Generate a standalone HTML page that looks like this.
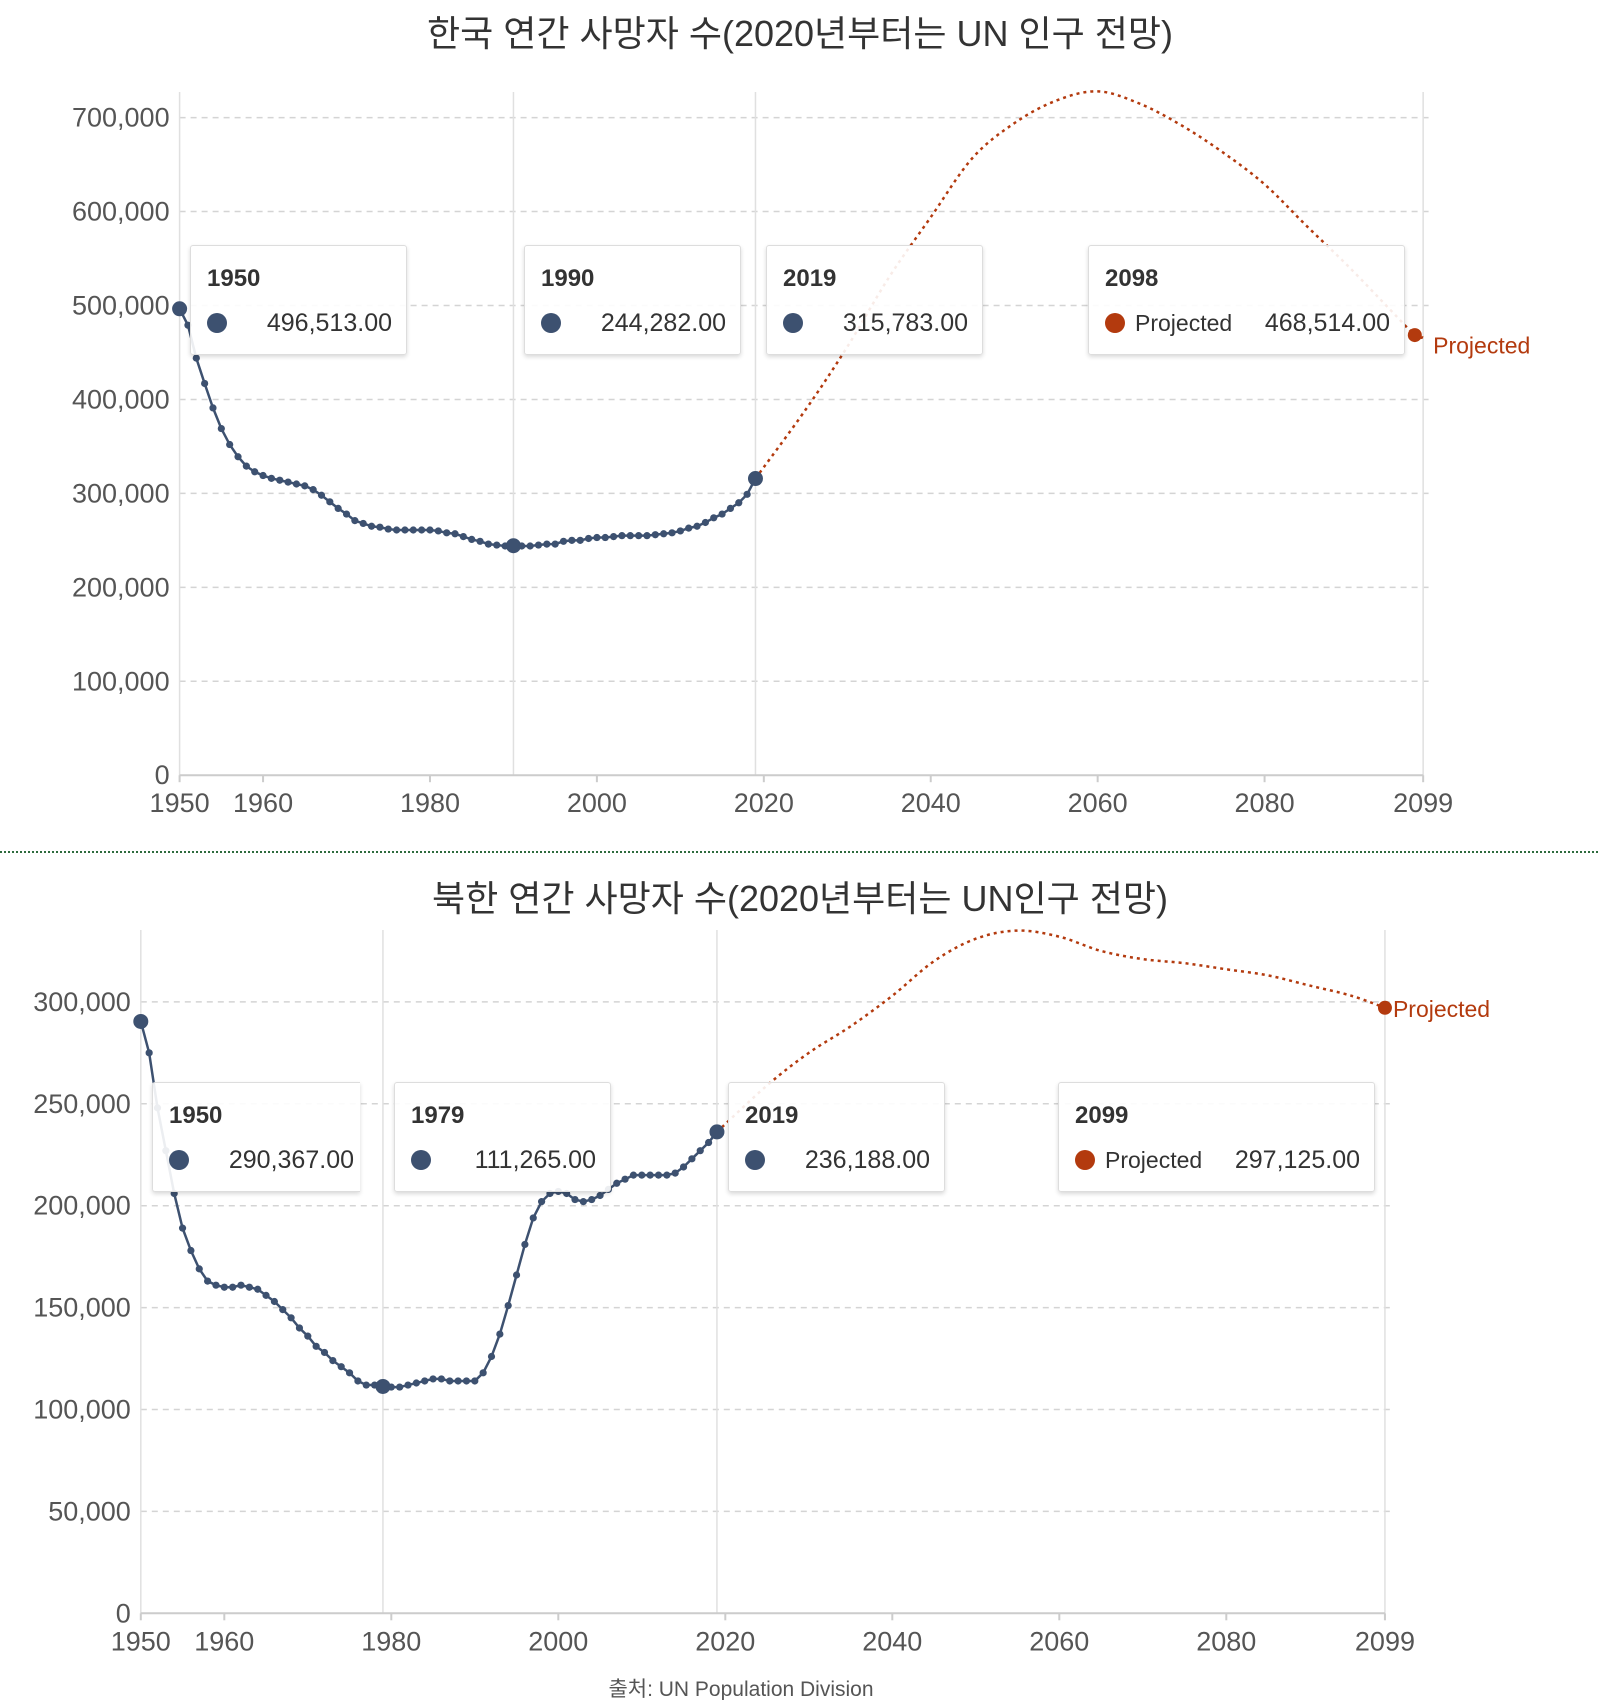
<!DOCTYPE html>
<html><head><meta charset="utf-8">
<style>
html,body{margin:0;padding:0;background:#fff;}
body{width:1600px;height:1700px;position:relative;overflow:hidden;font-family:"Liberation Sans","Noto Sans CJK KR",sans-serif;}
svg{position:absolute;left:0;top:0;}
.tip{position:absolute;background:rgba(255,255,255,0.9);border:1px solid #ddd;border-radius:3px;box-shadow:0 2px 4px rgba(0,0,0,0.15);box-sizing:border-box;color:#333;font-family:"Liberation Sans",sans-serif;}
.tip .yr{position:absolute;left:16px;top:19px;font-weight:bold;font-size:24px;}
.tip .dot{position:absolute;left:16px;top:67px;width:20px;height:20px;border-radius:50%;}
.tip .val{position:absolute;right:14px;top:63px;font-size:25px;}
.tip .lab{position:absolute;left:46px;top:64px;font-size:23px;}
</style></head>
<body>
<svg id="chart" width="1600" height="1700"></svg>

<div class="tip" style="left:190px;top:245px;width:217px;height:110px;"><div class="yr">1950</div><div class="dot" style="background:#3d5170"></div><div class="val">496,513.00</div></div>
<div class="tip" style="left:524px;top:245px;width:217px;height:110px;"><div class="yr">1990</div><div class="dot" style="background:#3d5170"></div><div class="val">244,282.00</div></div>
<div class="tip" style="left:766px;top:245px;width:217px;height:110px;"><div class="yr">2019</div><div class="dot" style="background:#3d5170"></div><div class="val">315,783.00</div></div>
<div class="tip" style="left:1088px;top:245px;width:317px;height:110px;"><div class="yr">2098</div><div class="dot" style="background:#b33a0e"></div><div class="lab">Projected</div><div class="val">468,514.00</div></div>

<div class="tip" style="left:152px;top:1082px;width:208px;height:110px;border-right:none;border-radius:3px 0 0 3px;"><div class="yr">1950</div><div class="dot" style="background:#3d5170"></div><div class="val" style="right:6px">290,367.00</div></div>
<div class="tip" style="left:394px;top:1082px;width:217px;height:110px;"><div class="yr">1979</div><div class="dot" style="background:#3d5170"></div><div class="val">111,265.00</div></div>
<div class="tip" style="left:728px;top:1082px;width:217px;height:110px;"><div class="yr">2019</div><div class="dot" style="background:#3d5170"></div><div class="val">236,188.00</div></div>
<div class="tip" style="left:1058px;top:1082px;width:317px;height:110px;"><div class="yr">2099</div><div class="dot" style="background:#b33a0e"></div><div class="lab">Projected</div><div class="val">297,125.00</div></div>

<script>
// ---- South Korea data ----
const krHistYears = [];
for (let y = 1950; y <= 2019; y++) krHistYears.push(y);
const krHistValues = [496.5,479,444,417,391,369,352,339,329,323,319,316,314,312,310,308,304,298,291,284,278,271,268,265,264,262,261,261,261,261,261,260,258,257,254,251,249,246,245,244,244.3,244,244,245,246,246,249,250,250,252,253,253,254,255,255,255,255,256,257,258,260,263,265,269,274,278,284,290,299,315.8];
const krProjYears = [2019,2025,2030,2035,2040,2045,2050,2055,2060,2065,2070,2075,2080,2085,2090,2095,2098,2099];
const krProjValues = [315.8,389,456,530,594,657,694,718,728,715,692,663,629,585,542,496,468.5,466];
const krYTicks = [0,100,200,300,400,500,600,700];
const krXTicks = [1950,1960,1980,2000,2020,2040,2060,2080,2099];
const krHighlights = [1950,1990,2019];

// ---- North Korea data ----
const nkHistYears = [];
for (let y = 1950; y <= 2019; y++) nkHistYears.push(y);
const nkHistValues = [290.4,275,248,227,206,189,178,169,163,161,160,160,161,160,159,156,153,149,145,140,136,131,128,124,121,118,114,112,112,111.3,111,111,112,113,114,115,115,114,114,114,114,118,126,137,151,166,181,194,202,206,207,206,203,202,203,205,208,211,213,215,215,215,215,215,216,219,223,227,231,236.2];
const nkProjYears = [2019,2025,2030,2035,2040,2045,2050,2055,2060,2065,2070,2075,2080,2085,2090,2095,2099];
const nkProjValues = [236.2,259,275,288,303,320,331,335,332,325,321,319,316,313,308,303,297.1];
const nkYTicks = [0,50,100,150,200,250,300];
const nkXTicks = [1950,1960,1980,2000,2020,2040,2060,2080,2099];
const nkHighlights = [1950,1979,2019];

const svg = document.getElementById('chart');
const NS = 'http://www.w3.org/2000/svg';
function mk(tag, attrs, parent) {
  const e = document.createElementNS(NS, tag);
  for (const k in attrs) e.setAttribute(k, attrs[k]);
  (parent || svg).appendChild(e);
  return e;
}
function fmt(v){ return Math.round(v*1000).toLocaleString('en-US'); }
function smooth(pts){
  let d = 'M' + pts[0][0] + ',' + pts[0][1];
  for (let i = 0; i < pts.length - 1; i++) {
    const p0 = pts[Math.max(0,i-1)], p1 = pts[i], p2 = pts[i+1], p3 = pts[Math.min(pts.length-1,i+2)];
    const c1x = p1[0] + (p2[0]-p0[0])/6, c1y = p1[1] + (p2[1]-p0[1])/6;
    const c2x = p2[0] - (p3[0]-p1[0])/6, c2y = p2[1] - (p3[1]-p1[1])/6;
    d += ' C' + c1x + ',' + c1y + ' ' + c2x + ',' + c2y + ' ' + p2[0] + ',' + p2[1];
  }
  return d;
}

function drawChart(cfg, prefix) {
  const x = yr => cfg.x0 + (yr - 1950) * cfg.pxYr;
  const y = v => cfg.y0 - v * cfg.pxUnit;
  const g = mk('g', {});
  
  
  const xEnd = x(2099);
  cfg.yTicks.forEach(t => {
    if (t > 0) {
      const l = mk('line', {x1:cfg.x0, x2:xEnd+8, y1:y(t), y2:y(t), stroke:'#d4d4d4', 'stroke-width':1.5, 'stroke-dasharray':'6,5'}, g);
      
      
    }
    const tx = mk('text', {x:cfg.x0-10, y:y(t)+9, 'text-anchor':'end', 'font-size':27, fill:'#555'}, g);
    tx.textContent = t === 0 ? '0' : fmt(t);
    
    
  });
  [1950].concat(cfg.highlights.slice(1), [2099]).forEach(yr => {
    const l = mk('line', {x1:x(yr), x2:x(yr), y1:cfg.top, y2:cfg.y0, stroke:'#e0e0e0', 'stroke-width':1.5}, g);
    
    
  });
  const ax = mk('line', {x1:cfg.x0, x2:xEnd, y1:cfg.y0, y2:cfg.y0, stroke:'#ccc', 'stroke-width':2}, g);
  
  
  cfg.xTicks.forEach(t => {
    mk('line', {x1:x(t), x2:x(t), y1:cfg.y0, y2:cfg.y0+7, stroke:'#ccc', 'stroke-width':2}, g);
    const tx = mk('text', {x:x(t), y:cfg.y0+37, 'text-anchor':'middle', 'font-size':27, fill:'#555'}, g);
    tx.textContent = t;
    
    
  });
  const pp = cfg.projYears.map((yr,i) => [x(yr), y(cfg.projValues[i])]);
  const pl = mk('path', {d:smooth(pp), fill:'none', stroke:'#b33a0e', 'stroke-width':2.5, 'stroke-dasharray':'3,4'}, g);
  
  
  const hp = cfg.histYears.map((yr,i) => x(yr) + ',' + y(cfg.histValues[i])).join(' ');
  const hl = mk('polyline', {points:hp, fill:'none', stroke:'#3d5170', 'stroke-width':2.5}, g);
  
  
  cfg.histYears.forEach((yr,i) => {
    const big = cfg.highlights.indexOf(yr) >= 0;
    const c = mk('circle', {cx:x(yr), cy:y(cfg.histValues[i]), r:big?7.5:3.6, fill:'#3d5170'}, g);
    
    
  });
  const ly = cfg.projYears[cfg.projYears.length-1], lv = cfg.projValues[cfg.projValues.length-1];
  const ec = mk('circle', {cx:x(cfg.endYear), cy:y(cfg.endValue), r:7, fill:'#b33a0e'}, g);
  
  
  const lt = mk('text', {x:x(ly)+cfg.labDx, y:y(lv)+cfg.labDy, 'font-size':23, fill:'#b33a0e'}, g);
  lt.textContent = 'Projected';
  
  
  const tt = mk('text', {x:800, y:cfg.titleY, 'text-anchor':'middle', 'font-size':36, fill:'#333'}, g);
  tt.textContent = cfg.title;
  
  
}

drawChart({x0:179.6, pxYr:8.346, y0:775.2, pxUnit:0.9394, top:92,
  yTicks:krYTicks, xTicks:krXTicks, highlights:krHighlights,
  histYears:krHistYears, histValues:krHistValues, projYears:krProjYears, projValues:krProjValues,
  endYear:2098, endValue:468.5, labDx:10, labDy:16, titleY:46,
  title:'한국 연간 사망자 수(2020년부터는 UN 인구 전망)'}, 'kr');

drawChart({x0:140.8, pxYr:8.35, y0:1613.3, pxUnit:2.038, top:930,
  yTicks:nkYTicks, xTicks:nkXTicks, highlights:nkHighlights,
  histYears:nkHistYears, histValues:nkHistValues, projYears:nkProjYears, projValues:nkProjValues,
  endYear:2099, endValue:297.1, labDx:8, labDy:9, titleY:911,
  title:'북한 연간 사망자 수(2020년부터는 UN인구 전망)'}, 'nk');

const sep = mk('line', {x1:0, x2:1600, y1:852, y2:852, stroke:'#2e6b3e', 'stroke-width':2, 'stroke-dasharray':'2,2'});


const src = mk('text', {x:741, y:1696, 'text-anchor':'middle', 'font-size':21, fill:'#555'});
src.textContent = '출처: UN Population Division';


</script>
</body></html>
